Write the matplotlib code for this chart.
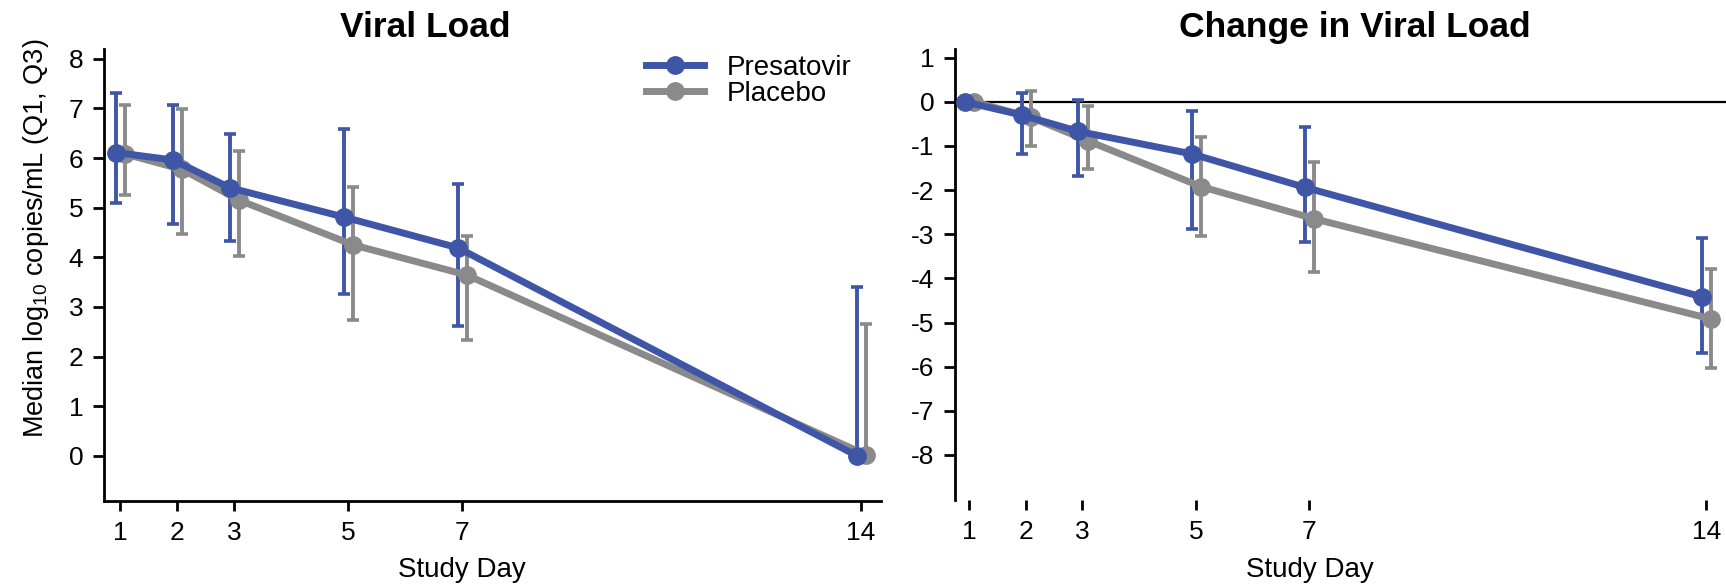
import numpy as np
import matplotlib
matplotlib.use('Agg')
import matplotlib.pyplot as plt
from matplotlib.lines import Line2D

# Dados
dias = [1, 2, 3, 5, 7, 14]

# Carga viral (mediana, Q1, Q3)
vl_pres_med = [6.11, 5.96, 5.40, 4.81, 4.19, 0.00]
vl_pres_q1 = [5.09, 4.68, 4.32, 3.26, 2.62, 0.00]
vl_pres_q3 = [7.30, 7.06, 6.48, 6.58, 5.47, 3.40]
vl_plac_med = [6.08, 5.77, 5.15, 4.25, 3.64, 0.02]
vl_plac_q1 = [5.25, 4.46, 4.02, 2.74, 2.33, 0.02]
vl_plac_q3 = [7.06, 6.98, 6.15, 5.42, 4.42, 2.66]

# Mudanca na carga viral
ch_pres_med = [0.00, -0.30, -0.67, -1.18, -1.94, -4.42]
ch_pres_q1 = [0.00, -1.19, -1.69, -2.89, -3.17, -5.69]
ch_pres_q3 = [0.00, 0.19, 0.04, -0.21, -0.57, -3.09]
ch_plac_med = [0.00, -0.35, -0.88, -1.92, -2.65, -4.92]
ch_plac_q1 = [0.00, -0.99, -1.52, -3.04, -3.86, -6.03]
ch_plac_q3 = [0.00, 0.25, -0.09, -0.80, -1.36, -3.79]

nomes = ['Presatovir', 'Placebo']
azul = '#3f56a7'
cinza = '#8a8a8a'

plt.rcParams['font.family'] = ['Liberation Sans', 'DejaVu Sans']
plt.rcParams['mathtext.fontset'] = 'custom'
plt.rcParams['mathtext.rm'] = 'Liberation Sans'
plt.rcParams['mathtext.it'] = 'Liberation Sans'

W, H = 1726, 588
fig = plt.figure(figsize=(W / 100, H / 100), dpi=100)
# posicoes em pixels medidas na referencia
ax1 = fig.add_axes([104 / W, 87 / H, 777 / W, 451.7 / H])
ax2 = fig.add_axes([955 / W, 88 / H, 771 / W, 450.7 / H])

x = np.array(dias, dtype=float)


def desenha(ax, med, q1, q3, dx, cor):
    med = np.array(med)
    err = [med - np.array(q1), np.array(q3) - med]
    ax.errorbar(x + dx, med, yerr=err, color=cor, lw=5, marker='o', ms=12.5,
                elinewidth=2.8, capsize=4.3, capthick=2.6, zorder=3)


desenha(ax1, vl_plac_med, vl_plac_q1, vl_plac_q3, 0.09, cinza)
desenha(ax1, vl_pres_med, vl_pres_q1, vl_pres_q3, -0.07, azul)
desenha(ax2, ch_plac_med, ch_plac_q1, ch_plac_q3, 0.09, cinza)
desenha(ax2, ch_pres_med, ch_pres_q1, ch_pres_q3, -0.07, azul)

ax2.axhline(0, color='black', lw=1.6, zorder=1)

ax1.set_xlim(0.72, 14.35)
ax1.set_ylim(-0.91, 8.19)
ax1.set_yticks(range(0, 9))
ax2.set_xlim(0.753, 14.35)
ax2.set_ylim(-9.02, 1.19)
ax2.set_yticks(range(-8, 2))
ax2.set_yticklabels([str(v) for v in range(-8, 2)])  # hifen simples como no original

for ax in (ax1, ax2):
    ax.set_xticks(dias)
    ax.spines['top'].set_visible(False)
    ax.spines['right'].set_visible(False)
    ax.spines['left'].set_linewidth(2)
    ax.spines['bottom'].set_linewidth(2)
    ax.tick_params(axis='x', length=7.2, width=2, labelsize=19, pad=7)
    ax.tick_params(axis='y', length=8, width=2, labelsize=19, pad=7)

ax2.spines['bottom'].set_visible(False)

# titulos e rotulos dos eixos
fig.text(425.5 / W, 1 - 37 / H, 'Viral Load', ha='center', va='baseline',
         fontsize=25.5, fontweight='bold')
fig.text(1355 / W, 1 - 37 / H, 'Change in Viral Load', ha='center',
         va='baseline', fontsize=25.5, fontweight='bold')
fig.text(462 / W, 1 - 577 / H, 'Study Day', ha='center', va='baseline', fontsize=20)
fig.text(1310 / W, 1 - 577 / H, 'Study Day', ha='center', va='baseline', fontsize=20)
fig.text(36.5 / W, 1 - 238.5 / H, 'Median log$_{10}$ copies/mL (Q1, Q3)',
         rotation=90, ha='center', va='center', fontsize=19.5)

# legenda so com linha e marcador
handles = [Line2D([], [], color=azul, lw=5, marker='o', ms=12.5),
           Line2D([], [], color=cinza, lw=5, marker='o', ms=12.5)]
fig.legend(handles, nomes, loc='upper left', bbox_to_anchor=(646 / W, 1 - 55 / H),
           frameon=False, fontsize=20, handlelength=2.1, handletextpad=0.8,
           labelspacing=0.0, borderpad=0, borderaxespad=0)

fig.savefig('out.png', dpi=100)
